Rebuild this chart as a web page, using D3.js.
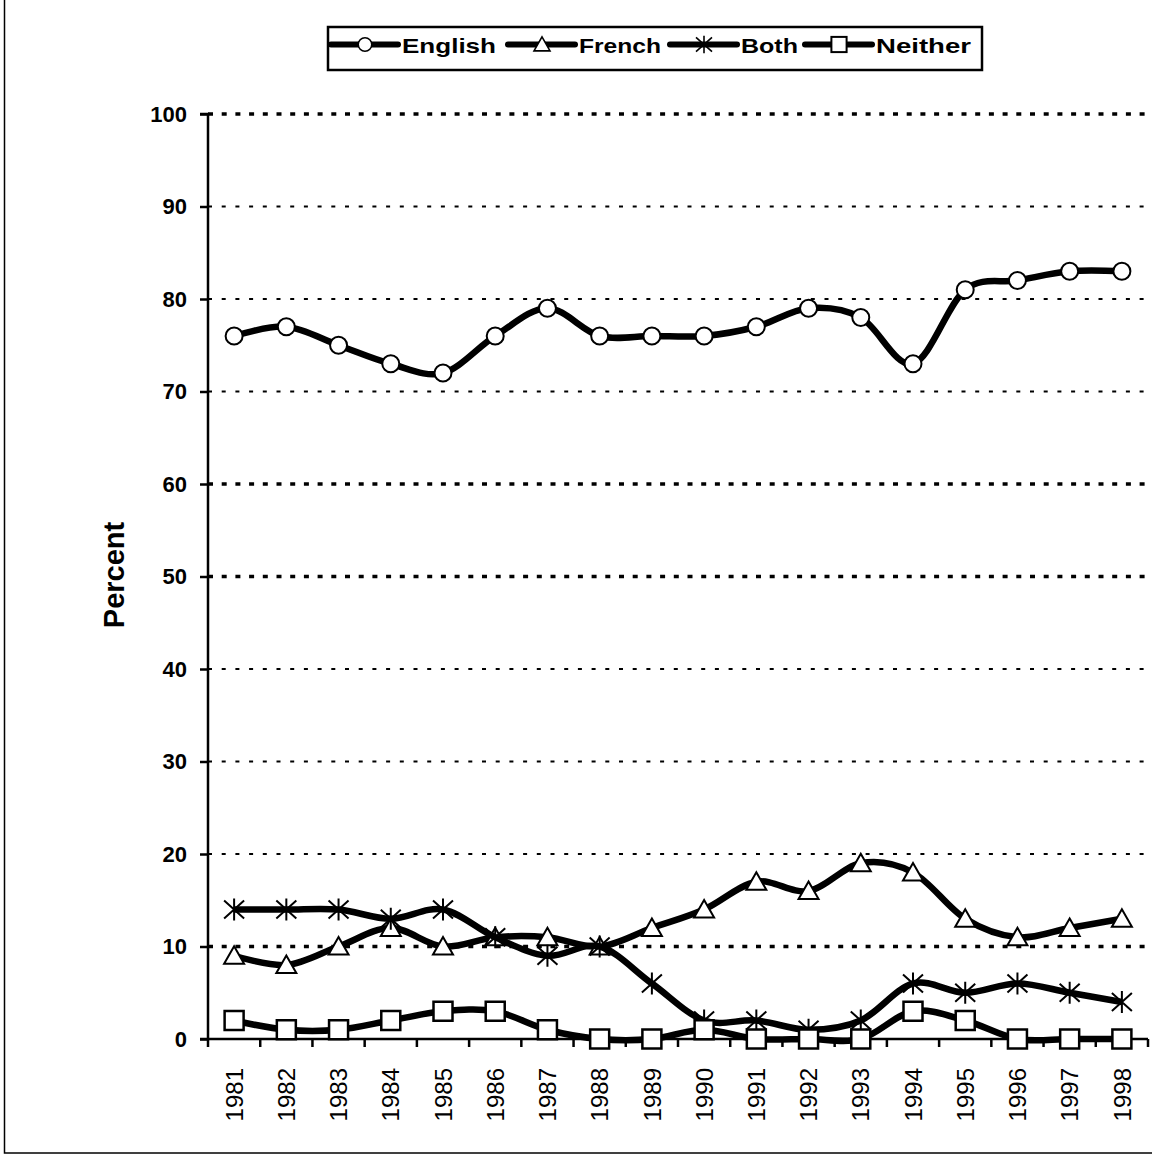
<!DOCTYPE html>
<html>
<head>
<meta charset="utf-8">
<script src="https://cdn.jsdelivr.net/npm/d3@7"></script>
<style>
  html, body { margin: 0; padding: 0; background: #fff; }
  svg { display: block; font-family: "Liberation Sans", Arial, sans-serif; }
</style>
</head>
<body>
<svg id="chart" width="1152" height="1157"></svg>
<script>
// ---- data ----
const years = ["1981","1982","1983","1984","1985","1986","1987","1988","1989","1990","1991","1992","1993","1994","1995","1996","1997","1998"];
const english = [76,77,75,73,72,76,79,76,76,76,77,79,78,73,81,82,83,83];
const french  = [9,8,10,12,10,11,11,10,12,14,17,16,19,18,13,11,12,13];
const both    = [14,14,14,13,14,11,9,10,6,2,2,1,2,6,5,6,5,4];
const neither = [2,1,1,2,3,3,1,0,0,1,0,0,0,3,2,0,0,0];
const seriesNames = ["English","French","Both","Neither"];
const yTicks = [0,10,20,30,40,50,60,70,80,90,100];
const boldGrid = [100,60,50,10];

const series = [
  {name: seriesNames[0], values: english, marker: "circle"},
  {name: seriesNames[1], values: french,  marker: "triangle"},
  {name: seriesNames[2], values: both,    marker: "star"},
  {name: seriesNames[3], values: neither, marker: "square"}
];

const svg = d3.select("#chart");

// outer frame
svg.append("rect").attr("x", 4.5).attr("y", -2).attr("width", 1160).attr("height", 1155)
  .attr("fill", "none").attr("stroke", "#000").attr("stroke-width", 1.5);

const pLeft = 208, pRight = 1148, pTop = 114, pBottom = 1039;
const x = d3.scaleBand().domain(years).range([pLeft, pRight]).padding(0);
const y = d3.scaleLinear().domain([0, 100]).range([pBottom, pTop]);
const cx = d => x(d) + x.bandwidth() / 2;

// grid lines
svg.append("g").selectAll("line").data(yTicks.filter(t => t > 0)).join("line")
  .attr("x1", pLeft).attr("x2", pRight)
  .attr("y1", d => y(d)).attr("y2", d => y(d))
  .attr("stroke", "#000")
  .attr("stroke-width", d => boldGrid.includes(d) ? 3.5 : 2)
  .attr("stroke-dasharray", d => boldGrid.includes(d) ? "5 8.7" : "4 9.7");

// y axis
const yAxis = d3.axisLeft(y).tickValues(yTicks).tickSize(8).tickPadding(13);
const gy = svg.append("g").attr("transform", `translate(${pLeft},0)`).call(yAxis);
gy.select(".domain").attr("stroke-width", 2.5).attr("d", `M-8,${pTop}H0V${pBottom}H-8`);
gy.selectAll(".tick line").attr("stroke-width", 2.5);
gy.selectAll(".tick text").attr("font-size", 22).attr("font-weight", "bold")
  .attr("fill", "#000").attr("font-family", "Liberation Sans, Arial, sans-serif");

// x axis
const xAxis = d3.axisBottom(x).tickSize(0).tickFormat(d => d);
const gx = svg.append("g").attr("transform", `translate(0,${pBottom})`).call(xAxis);
gx.select(".domain").attr("stroke-width", 2.5).attr("d", `M${pLeft},0H${pRight}`);
gx.selectAll(".tick text")
  .attr("font-size", 24).attr("font-weight", "normal").attr("fill", "#000")
  .attr("font-family", "Liberation Sans, Arial, sans-serif")
  .attr("text-anchor", "end").attr("dy", "0.36em")
  .attr("transform", "translate(0,29) rotate(-90)").attr("x", 0).attr("y", 0);
// boundary ticks
const bounds = years.map(d => x(d)).concat([pRight]);
svg.append("g").selectAll("line").data(bounds).join("line")
  .attr("x1", d => d).attr("x2", d => d)
  .attr("y1", pBottom).attr("y2", pBottom + 8)
  .attr("stroke", "#000").attr("stroke-width", 2.5);

// y title
svg.append("text")
  .attr("transform", `translate(124,575) rotate(-90)`)
  .attr("text-anchor", "middle")
  .attr("font-size", 29).attr("font-weight", "bold").text("Percent");

// marker drawing
function drawMarker(g, type) {
  if (type === "circle") {
    g.append("circle").attr("r", 8.5).attr("fill", "#fff").attr("stroke", "#000").attr("stroke-width", 2);
  } else if (type === "triangle") {
    g.append("path").attr("d", "M0,-9.5L10,8L-10,8Z").attr("fill", "#fff").attr("stroke", "#000").attr("stroke-width", 2);
  } else if (type === "star") {
    g.append("path").attr("d", "M-10,-9L10,9M-10,9L10,-9M0,-11V11").attr("fill", "none").attr("stroke", "#000").attr("stroke-width", 2);
  } else if (type === "square") {
    g.append("rect").attr("x", -9.5).attr("y", -9.5).attr("width", 19).attr("height", 19)
      .attr("fill", "#fff").attr("stroke", "#000").attr("stroke-width", 2.5);
  }
}

const line = d3.line().x((d, i) => cx(years[i])).y(d => y(d)).curve(d3.curveCardinal.tension(0));

series.forEach(s => {
  const g = svg.append("g");
  g.append("path").attr("d", line(s.values)).attr("fill", "none")
    .attr("stroke", "#000").attr("stroke-width", 6.5).attr("stroke-linejoin", "round");
  s.values.forEach((v, i) => {
    const m = g.append("g").attr("transform", `translate(${cx(years[i])},${y(v)})`);
    drawMarker(m, s.marker);
  });
});

// legend
const lg = svg.append("g");
lg.append("rect").attr("x", 328).attr("y", 27).attr("width", 654).attr("height", 43)
  .attr("fill", "#fff").attr("stroke", "#000").attr("stroke-width", 2.5);
const legendX = [331, 508, 670, 805];
const legendTextW = [94, 82, 57, 95];
series.forEach((s, i) => {
  const gx0 = legendX[i];
  const item = lg.append("g").attr("transform", `translate(${gx0},44.5)`);
  item.append("line").attr("x1", 0).attr("x2", 67).attr("y1", 0).attr("y2", 0)
    .attr("stroke", "#000").attr("stroke-width", 6).attr("stroke-linecap", "round");
  const m = item.append("g").attr("transform", "translate(34,0) scale(0.8)");
  drawMarker(m, s.marker);
  item.append("text").attr("x", 71).attr("y", 8).attr("font-size", 21).attr("font-weight", "bold")
    .attr("textLength", legendTextW[i]).attr("lengthAdjust", "spacingAndGlyphs")
    .text(s.name);
});
</script>
</body>
</html>
